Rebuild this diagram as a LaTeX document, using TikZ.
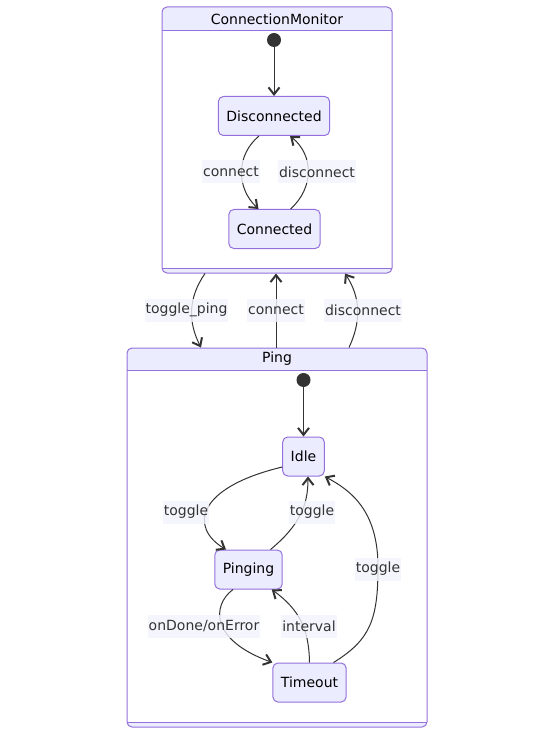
\documentclass[tikz,border=0pt]{standalone}
\usepackage{fontspec}
\setmainfont{DejaVu Sans}
\usepackage{xcolor}
\usepackage{tikz}
\usetikzlibrary{arrows.meta, positioning}
\definecolor{Lavender}{HTML}{ECECFF}
\definecolor{Border}{HTML}{9370DB}
\definecolor{Ink}{HTML}{333333}
\definecolor{LabelBg}{HTML}{F3F3FD}
\tikzset{
	state/.style={draw=Border, fill=Lavender, rounded corners=5pt, line width=1pt, minimum height=39pt, inner xsep=8pt},
	edgelabel/.style={fill=LabelBg, fill opacity=0.8, text opacity=1, text=Ink, inner xsep=1pt, inner ysep=0pt, minimum height=23pt},
	transition/.style={draw=Ink, line width=1pt, -{Straight Barb[length=7pt, width=11pt, line width=2pt]}},
	initial/.style={circle, fill=Ink, minimum size=14pt, inner sep=0pt},
	cluster/.style={draw=Border, rounded corners=5pt, line width=1pt, inner sep=0pt},
}

\begin{document}
\begin{tikzpicture}[x=1pt, y=-1pt, font=\fontsize{14}{17}\selectfont]

\useasboundingbox (0,0) rectangle (554,735);

\begin{scope}
\clip[rounded corners=5pt] (162,7) rectangle (392,273);
\fill[Lavender] (162,7) rectangle (392,31);
\fill[Lavender] (162,268) rectangle (392,273);
\end{scope}
\node[cluster, minimum width=230pt, minimum height=266pt] (monitor) at (277,140) {};
\draw[Border, line width=1pt] (162,31) -- (392,31);
\draw[Border, line width=1pt] (162,268) -- (392,268);
\node (monitortitle) at (277,19) {ConnectionMonitor};

\begin{scope}
\clip[rounded corners=5pt] (127,348) rectangle (427,727);
\fill[Lavender] (127,348) rectangle (427,370);
\fill[Lavender] (127,722) rectangle (427,727);
\end{scope}
\node[cluster, minimum width=300pt, minimum height=379pt] (ping) at (277,537.5) {};
\draw[Border, line width=1pt] (127,370) -- (427,370);
\draw[Border, line width=1pt] (127,722) -- (427,722);
\node (pingtitle) at (277,359) {Ping};

\node[initial] (start1) at (274,40) {};
\node[state] (disconnected) at (274,116) {Disconnected};
\node[state] (connected) at (274.5,229) {Connected};

\node[initial] (start2) at (303.5,380) {};
\node[state] (idle) at (303.5,456.5) {Idle};
\node[state] (pinging) at (248.5,569.5) {Pinging};
\node[state] (timeout) at (309.5,682.5) {Timeout};

\draw[transition] (start1) -- (disconnected);
\draw[transition] ([xshift=-15pt]disconnected.south) .. controls (236,155) and (236,188) .. ([xshift=-16pt]connected.north);
\draw[transition] ([xshift=16pt]connected.north) .. controls (314,188) and (314,155) .. ([xshift=16pt]disconnected.south);

\draw[transition] ([xshift=-72pt]monitor.south) .. controls (188,298) and (188,322) .. ([xshift=-76pt]ping.north);
\draw[transition] ([xshift=-1pt]ping.north) -- ([xshift=-1pt]monitor.south);
\draw[transition] ([xshift=72pt]ping.north) .. controls (361,322) and (361,298) .. ([xshift=68pt]monitor.south);

\draw[transition] (start2) -- (idle);
\draw[transition] ([yshift=-10.5pt]idle.west) .. controls (195,488) and (190,528) .. ([xshift=-22.5pt]pinging.north);
\draw[transition] ([xshift=22pt]pinging.north) .. controls (300,525) and (308,505) .. ([xshift=4.5pt]idle.south);
\draw[transition] ([xshift=24pt]timeout.north) .. controls (370,640) and (378,620) .. (378,567) .. controls (378,510) and (350,490) .. (idle.south east);
\draw[transition] ([xshift=-15.5pt]pinging.south) .. controls (212,605) and (210,640) .. (timeout.north west);
\draw[transition] (timeout.north) .. controls (309,630) and (300,610) .. ([xshift=-11pt]pinging.south east);

\node[edgelabel] (lblconnect) at (231,172) {connect};
\node[edgelabel] (lbldisconnect) at (317,172) {disconnect};
\node[edgelabel] (lbltoggleping) at (186.5,310) {toggle\_ping};
\node[edgelabel] (lblpingconnect) at (276,310) {connect};
\node[edgelabel] (lblpingdisconnect) at (363,310) {disconnect};
\node[edgelabel] (lbltoggleleft) at (186,512) {toggle};
\node[edgelabel] (lbltoggleright) at (312,512) {toggle};
\node[edgelabel] (lbltogglefar) at (378,569) {toggle};
\node[edgelabel] (lbldone) at (204,626) {onDone/onError};
\node[edgelabel] (lblinterval) at (309,626) {interval};

\end{tikzpicture}
\end{document}
